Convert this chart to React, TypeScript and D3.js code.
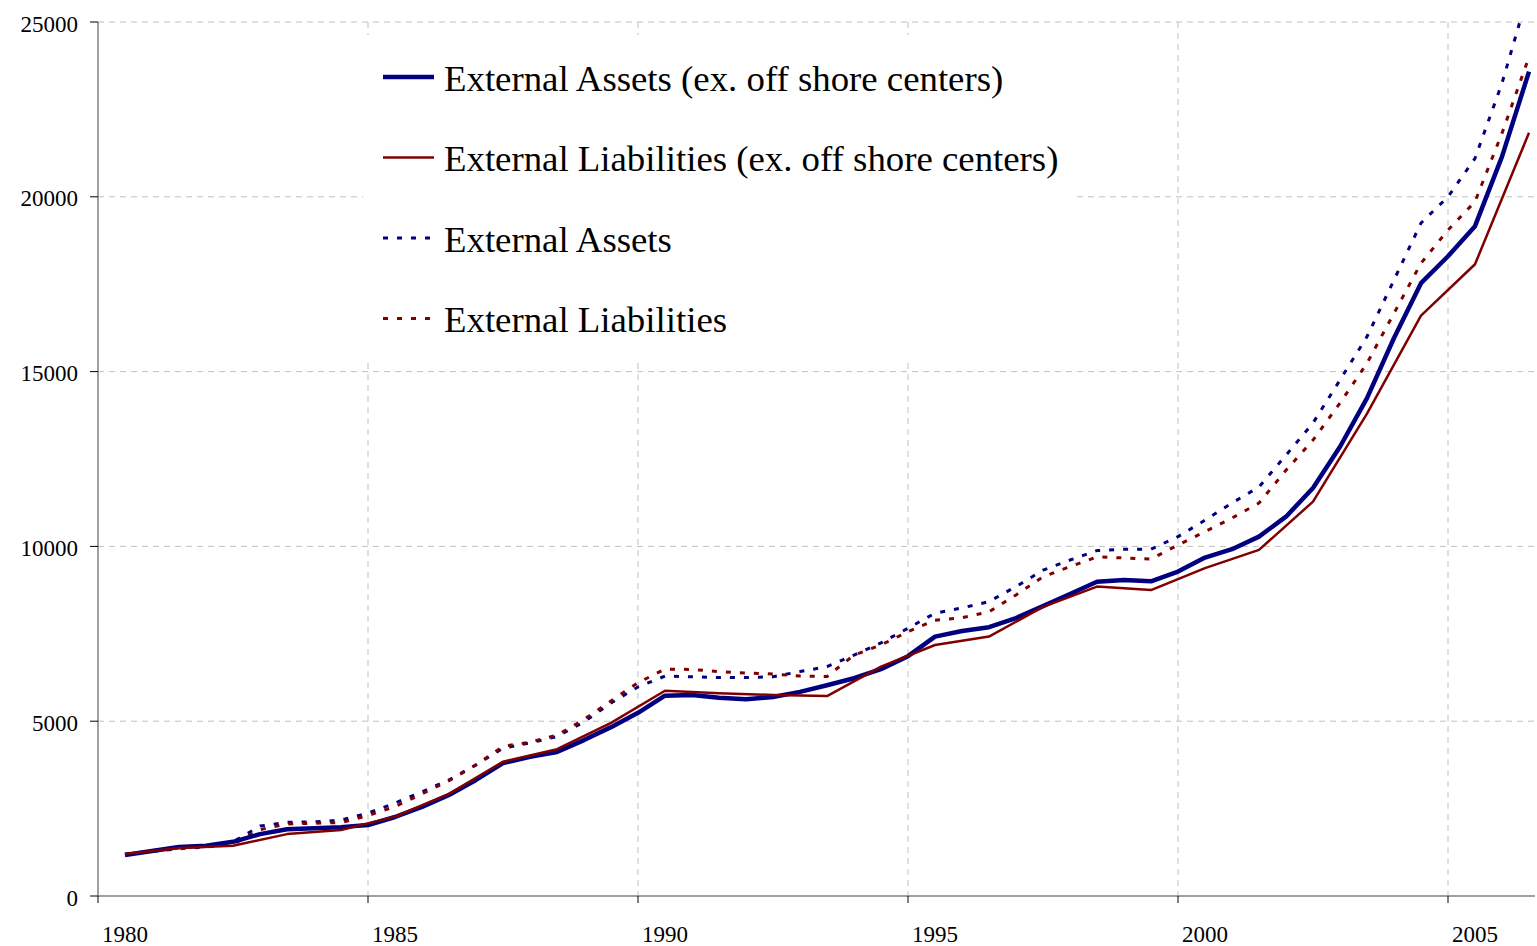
import React from "react";
import * as d3 from "d3";

// ---- data (values in the chart's units) ----
const annualYears = d3.range(1980.5, 2007, 1); // 1980.5 ... 2006.5
const semiYears = d3.range(1980.5, 2006.75, 0.5); // 1980.5 ... 2006.5

const liabExOffshore = [
  1200, 1370, 1440, 1770, 1890, 2270, 2920, 3840, 4200, 4950, 5870, 5800, 5750,
  5720, 6560, 7180, 7420, 8270, 8850, 8750, 9380, 9900, 11280, 13800, 16600,
  18070, 21830,
];

const assetsExOffshore = [
  1170, 1290, 1400, 1440, 1550, 1770, 1910, 1940, 1970, 2030, 2260, 2550, 2890,
  3320, 3800, 3980, 4120, 4460, 4830, 5240, 5730, 5750, 5670, 5630, 5690, 5840,
  6030, 6230, 6490, 6860, 7420, 7580, 7690, 7950, 8290, 8640, 8990, 9040, 9000,
  9280, 9680, 9920, 10280, 10850, 11670, 12850, 14240, 15960, 17530, 18300,
  19160, 21150, 23580,
];

const assetsAll = [
  1170, 1290, 1400, 1440, 1550, 2000, 2110, 2120, 2170, 2370, 2660, 2980, 3320,
  3750, 4230, 4380, 4560, 4980, 5520, 5980, 6290, 6270, 6250, 6250, 6270, 6420,
  6560, 6890, 7240, 7660, 8090, 8240, 8420, 8850, 9320, 9610, 9880, 9920, 9920,
  10280, 10750, 11240, 11700, 12610, 13530, 14760, 16000, 17620, 19250, 20000,
  21100, 23250, 25900,
];

const liabAll = [
  1200, 1280, 1350, 1400, 1480, 1900, 2060, 2080, 2100, 2300, 2560, 2920, 3300,
  3750, 4280, 4400, 4600, 5050, 5580, 6100, 6490, 6480, 6420, 6380, 6350, 6290,
  6280, 6890, 7180, 7560, 7890, 7960, 8130, 8610, 9130, 9420, 9700, 9670, 9640,
  10040, 10420, 10810, 11240, 12180, 13040, 14100, 15240, 16670, 18100, 19050,
  19860, 21820, 24000,
];

const yTicks = [0, 5000, 10000, 15000, 20000, 25000];
const xTicks = [1980, 1985, 1990, 1995, 2000, 2005];

const legendLabels = [
  "External Assets (ex. off shore centers)",
  "External Liabilities (ex. off shore centers)",
  "External Assets",
  "External Liabilities",
];

const NAVY = "#000080";
const MAROON = "#800000";
const FONT = "'Liberation Serif', 'Times New Roman', serif";

export default function App() {
  const W = 1537;
  const H = 946;
  const left = 98;
  const right = 1535;
  const top = 22;
  const bottom = 896;

  const x = d3
    .scaleLinear()
    .domain([1980, 1980 + (right - left) / 54])
    .range([left, right]);
  const y = d3.scaleLinear().domain([0, 25000]).range([bottom, top]);

  const line = d3
    .line<[number, number]>()
    .x((d) => x(d[0]))
    .y((d) => y(d[1]));

  const mk = (years: number[], vals: number[]) =>
    line(vals.map((v, i) => [years[i], v] as [number, number])) || "";

  const series = [
    { d: mk(semiYears, assetsAll), color: NAVY, w: 3, dash: "5,9" },
    { d: mk(semiYears, liabAll), color: MAROON, w: 3, dash: "5,9" },
    { d: mk(semiYears, assetsExOffshore), color: NAVY, w: 4.5, dash: undefined },
    { d: mk(annualYears, liabExOffshore), color: MAROON, w: 2.5, dash: undefined },
  ];

  const legendItems = [
    { color: NAVY, w: 4.5, dash: undefined },
    { color: MAROON, w: 2.5, dash: undefined },
    { color: NAVY, w: 3, dash: "5,9" },
    { color: MAROON, w: 3, dash: "5,9" },
  ];

  return (
    <svg
      width={W}
      height={H}
      style={{ position: "absolute", left: 0, top: 0, background: "#fff" }}
      fontFamily={FONT}
    >
      <defs>
        <clipPath id="plot">
          <rect x={left} y={top} width={right - left} height={bottom - top} />
        </clipPath>
      </defs>
      <rect x={0} y={0} width={W} height={H} fill="#fff" />
      {/* gridlines */}
      {yTicks
        .filter((t) => t > 0)
        .map((t) => (
          <line
            key={"gy" + t}
            x1={left}
            x2={right}
            y1={y(t)}
            y2={y(t)}
            stroke="#c0c0c0"
            strokeWidth={1}
            strokeDasharray="6,5"
          />
        ))}
      {xTicks
        .filter((t) => t > 1980)
        .map((t) => (
          <line
            key={"gx" + t}
            x1={x(t)}
            x2={x(t)}
            y1={top}
            y2={bottom}
            stroke="#c0c0c0"
            strokeWidth={1}
            strokeDasharray="6,5"
          />
        ))}
      {/* legend background */}
      <rect x={363} y={35} width={710} height={323} fill="#fff" />
      {/* axes */}
      <line x1={left} x2={left} y1={top} y2={bottom} stroke="#808080" strokeWidth={1.5} />
      <line x1={left} x2={right} y1={bottom} y2={bottom} stroke="#808080" strokeWidth={1.5} />
      {yTicks.map((t) => (
        <g key={"ty" + t}>
          <line x1={left - 8} x2={left} y1={y(t)} y2={y(t)} stroke="#000" strokeWidth={1} />
          <text x={78} y={y(t) + 9.5} textAnchor="end" fontSize={23} fill="#000">
            {t}
          </text>
        </g>
      ))}
      {xTicks.map((t) => (
        <g key={"tx" + t}>
          <line x1={x(t)} x2={x(t)} y1={bottom} y2={bottom + 7} stroke="#000" strokeWidth={1} />
          <text x={x(t) + 27} y={941.5} textAnchor="middle" fontSize={23} fill="#000">
            {t}
          </text>
        </g>
      ))}
      {/* series */}
      <g clipPath="url(#plot)">
        {series.map((s, i) => (
          <path
            key={"s" + i}
            d={s.d}
            fill="none"
            stroke={s.color}
            strokeWidth={s.w}
            strokeDasharray={s.dash}
            strokeLinejoin="round"
          />
        ))}
      </g>
      {/* legend */}
      {legendItems.map((it, i) => {
        const ly = 77 + i * 80.5;
        return (
          <g key={"lg" + i}>
            <line
              x1={383}
              x2={434}
              y1={ly}
              y2={ly}
              stroke={it.color}
              strokeWidth={it.w}
              strokeDasharray={it.dash}
            />
            <text x={444} y={ly + 13.5} fontSize={36.8} fill="#000">
              {legendLabels[i]}
            </text>
          </g>
        );
      })}
    </svg>
  );
}
